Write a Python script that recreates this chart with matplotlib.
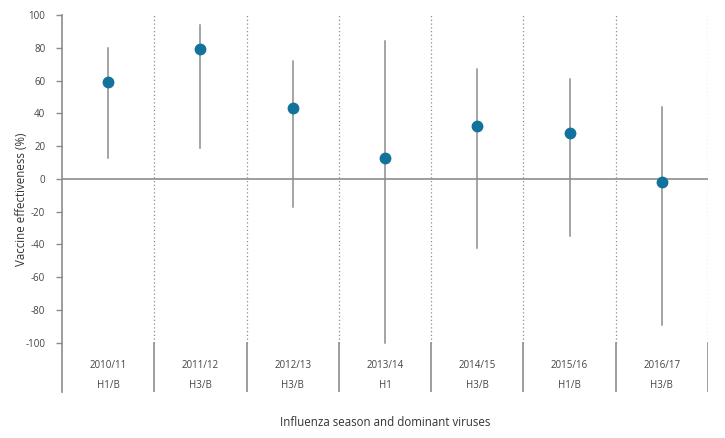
import matplotlib
matplotlib.use("Agg")
import matplotlib.pyplot as plt

plt.rcParams['font.family'] = ['Open Sans', 'DejaVu Sans']

seasons = ["2010/11", "2011/12", "2012/13", "2013/14", "2014/15", "2015/16", "2016/17"]
viruses = ["H1/B", "H3/B", "H3/B", "H1", "H3/B", "H1/B", "H3/B"]
ve = [59, 79, 43, 13, 32, 28, -2]
ci_low = [13, 19, -17, -100, -42, -35, -89]
ci_high = [80, 94, 72, 84, 67, 61, 44]

W, H = 725, 438
fig = plt.figure(figsize=(W / 100, H / 100), dpi=100)
ax = fig.add_axes([62 / W, 1 - 392 / H, (708 - 62) / W, (392 - 15) / H])

n = len(seasons)
xs = list(range(n))
ax.set_xlim(-0.5, n - 0.5)
ax.set_ylim(-130, 100)

grey = '#8c8c8c'
# separators
for i in range(n):
    xb = i + 0.5
    ax.plot([xb, xb], [-100, 100], color=grey, lw=0.9, ls=(0, (1, 2)), zorder=1)
    ax.plot([xb, xb], [-130, -100], color=grey, lw=1.2, zorder=1)

ax.axhline(0, color=grey, lw=1.2, zorder=1)

for x, v, lo, hi in zip(xs, ve, ci_low, ci_high):
    ax.plot([x, x], [lo, hi], color=grey, lw=1.1, zorder=2)
    ax.plot([x], [v], 'o', color='#13729c', ms=7.5, zorder=3)

for x, s, vir in zip(xs, seasons, viruses):
    ax.text(x, -114, s, ha='center', va='center', fontsize=7, color='#444444')
    ax.text(x, -126, vir, ha='center', va='center', fontsize=7, color='#444444')

for s in ['top', 'right', 'bottom']:
    ax.spines[s].set_visible(False)
ax.spines['left'].set_color(grey)
ax.spines['left'].set_linewidth(1.2)
ax.set_yticks(range(-100, 101, 20))
ax.set_yticklabels([str(t) for t in range(-100, 101, 20)])
ax.tick_params(axis='y', length=4, width=1, color=grey, labelsize=7, labelcolor='#444444', pad=8)
ax.set_xticks([])

ax.set_ylabel("Vaccine effectiveness (%)", fontsize=8.3, color='#333333')
ax.yaxis.set_label_coords(-0.053, 0.51)
fig.text(385 / W, 1 - 423 / H, "Influenza season and dominant viruses", ha='center', va='center',
         fontsize=8.3, color='#333333')

fig.savefig("out.png", dpi=100)
